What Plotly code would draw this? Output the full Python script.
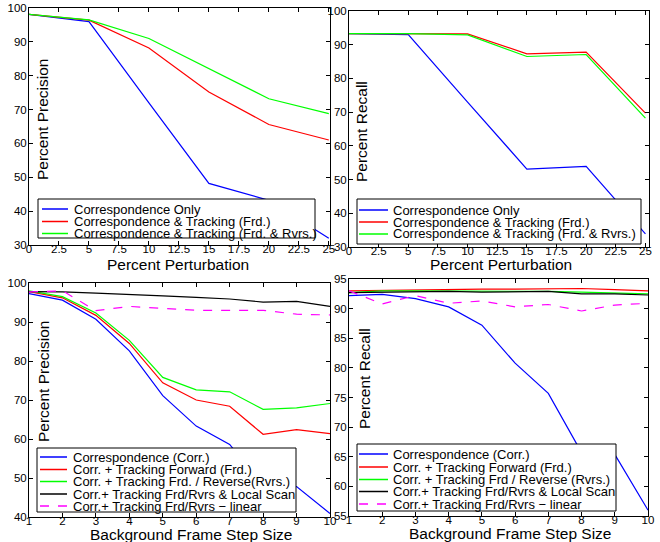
import plotly.graph_objects as go

W, H = 660, 542

# ---------------- data ----------------
pert_x = [0, 5, 10, 15, 20, 25]
prec_corr_only = [98.1, 96.0, 72.0, 48.2, 43.2, 32.0]
prec_frd = [98.1, 96.4, 88.2, 75.2, 65.6, 61.0]
prec_frd_rvrs = [98.1, 96.5, 91.0, 82.1, 73.2, 68.8]

rec_corr_only = [93.3, 93.0, 73.0, 53.1, 53.9, 33.9]
rec_frd = [93.3, 93.3, 93.2, 87.3, 87.8, 69.7]
rec_frd_rvrs = [93.3, 93.3, 92.9, 86.5, 87.1, 68.2]

step_x = [1, 2, 3, 4, 5, 6, 7, 8, 9, 10]
sprec_corr = [97.3, 95.6, 90.7, 82.6, 71.1, 63.3, 58.6, 47.9, 47.8, 40.9]
sprec_frd = [97.8, 96.2, 91.7, 84.5, 74.4, 70.0, 68.4, 61.2, 62.4, 61.4]
sprec_frd_rvrs = [98.0, 96.5, 92.3, 85.3, 75.8, 72.6, 72.1, 67.6, 68.0, 69.1]
sprec_local = [97.8, 97.7, 97.4, 97.1, 96.7, 96.3, 95.9, 95.1, 95.3, 94.0]
sprec_linear = [97.7, 98.0, 92.9, 94.0, 93.5, 93.0, 93.0, 93.0, 92.0, 91.8]

srec_corr = [92.2, 92.4, 91.7, 90.3, 87.2, 80.8, 75.7, 65.7, 65.4, 56.0]
srec_frd = [93.0, 93.1, 93.2, 93.2, 93.3, 93.3, 93.3, 93.4, 93.2, 93.0]
srec_frd_rvrs = [92.7, 93.0, 93.0, 93.0, 93.0, 92.9, 92.9, 92.8, 92.7, 92.5]
srec_local = [92.7, 92.8, 92.9, 92.9, 92.8, 92.8, 92.9, 92.5, 92.5, 92.3]
srec_linear = [93.0, 90.8, 92.2, 90.9, 91.3, 90.3, 90.7, 89.6, 90.6, 90.9]

pert_tick_vals = [0, 2.5, 5, 7.5, 10, 12.5, 15, 17.5, 20, 22.5, 25]
pert_tick_text = ["0", "2.5", "5", "7.5", "10", "12.5", "15", "17.5", "20", "22.5", "25"]

top_labels = ["Correspondence Only",
              "Correspondence & Tracking (Frd.)",
              "Correspondence & Tracking (Frd. & Rvrs.)"]
bl_labels = ["Correspondence (Corr.)",
             "Corr. + Tracking Forward (Frd.)",
             "Corr. + Tracking Frd. / Reverse(Rvrs.)",
             "Corr.+ Tracking Frd/Rvrs & Local Scan",
             "Corr.+ Tracking Frd/Rvrs \u2212 linear"]
br_labels = ["Correspondence (Corr.)",
             "Corr. + Tracking Forward (Frd.)",
             "Corr. + Tracking Frd / Reverse (Rvrs.)",
             "Corr.+ Tracking Frd/Rvrs & Local Scan",
             "Corr.+ Tracking Frd/Rvrs \u2212 linear"]

BLUE, RED, GREEN, BLACK, MAG = "#0000ff", "#ff0000", "#00ff00", "#000000", "#ff00ff"
styles3 = [(BLUE, "solid"), (RED, "solid"), (GREEN, "solid")]
styles5 = [(BLUE, "solid"), (RED, "solid"), (GREEN, "solid"), (BLACK, "solid"), (MAG, "dash")]

FONT = "Liberation Sans, Arial, Helvetica, sans-serif"

fig = go.Figure()

def add_series(xs, ys_list, labels, styles, ax):
    for ys, lab, (c, d) in zip(ys_list, labels, styles):
        fig.add_trace(go.Scatter(x=xs, y=ys, mode="lines", name=lab,
                                 line=dict(color=c, width=1.2, dash=d),
                                 xaxis="x" + ax, yaxis="y" + ax, showlegend=False))

add_series(pert_x, [prec_corr_only, prec_frd, prec_frd_rvrs], top_labels, styles3, "")
add_series(pert_x, [rec_corr_only, rec_frd, rec_frd_rvrs], top_labels, styles3, "2")
add_series(step_x, [sprec_corr, sprec_frd, sprec_frd_rvrs, sprec_local, sprec_linear], bl_labels, styles5, "3")
add_series(step_x, [srec_corr, srec_frd, srec_frd_rvrs, srec_local, srec_linear], br_labels, styles5, "4")

def px_dom(a, b, total, flip=False):
    if flip:
        return [1 - b / total, 1 - a / total]
    return [a / total, b / total]

axis_common = dict(showline=True, linecolor="black", linewidth=1, mirror="ticks",
                   ticks="inside", ticklen=4, tickcolor="black", showgrid=False,
                   zeroline=False, automargin=False,
                   tickfont=dict(family=FONT, size=11.5, color="black"))

panels = {
    "": dict(xd=(29, 330), yd=(8, 245), xr=[0, 25.1], yr=[30, 100]),
    "2": dict(xd=(349, 649), yd=(11, 247), xr=[0, 25.3], yr=[30, 100]),
    "3": dict(xd=(29, 330), yd=(283, 517), xr=[1, 10], yr=[40, 100]),
    "4": dict(xd=(349, 648), yd=(279, 516), xr=[1, 10], yr=[55, 95]),
}

layout = {}
for k, p in panels.items():
    xa = dict(axis_common, domain=px_dom(*p["xd"], W), range=p["xr"],
              anchor="y" + k, ticklabelstandoff=-7)
    ya = dict(axis_common, domain=px_dom(*p["yd"], H, flip=True), range=p["yr"],
              anchor="x" + k, ticklabelstandoff=-1)
    if k in ("", "2"):
        xa.update(tickvals=pert_tick_vals, ticktext=pert_tick_text)
        ya.update(dtick=10, tick0=0)
    elif k == "3":
        xa.update(dtick=1, tick0=1)
        ya.update(dtick=10, tick0=0)
    else:
        xa.update(dtick=1, tick0=1)
        ya.update(dtick=5, tick0=0)
    layout["xaxis" + k] = xa
    layout["yaxis" + k] = ya

fig.update_layout(**layout)

annotations = []
shapes = []

def P(x, y):
    return x / W, 1 - y / H

# axis titles
titles = [
    ("Percent Perturbation", 178, 265, 0),
    ("Percent Perturbation", 501, 264, 0),
    ("Background Frame Step Size", 191, 534, 0),
    ("Background Frame Step Size", 510, 533, 0),
    ("Percent Precision", 42, 119, -90),
    ("Percent Recall", 361, 132, -90),
    ("Percent Precision", 43, 382, -90),
    ("Percent Recall", 364, 379, -90),
]
for t, x, y, ang in titles:
    xp, yp = P(x, y)
    annotations.append(dict(text=t, x=xp, y=yp, xref="paper", yref="paper",
                            showarrow=False, textangle=ang, xanchor="center",
                            yanchor="middle",
                            font=dict(family=FONT, size=15.5, color="black")))

# legends
legends = [
    dict(box=(38, 199, 315, 238), rows=[209, 221.5, 233.5], lx=(42, 68), tx=72,
         labels=top_labels, styles=styles3),
    dict(box=(357, 199, 641, 244), rows=[210, 222, 234], lx=(359, 388), tx=391,
         labels=top_labels, styles=styles3),
    dict(box=(37, 448, 296, 512), rows=[457, 469.5, 481.5, 494, 506], lx=(40, 67), tx=71,
         labels=bl_labels, styles=styles5),
    dict(box=(357, 444, 616, 511), rows=[454, 467, 479.5, 491.5, 504], lx=(359, 388), tx=391,
         labels=br_labels, styles=styles5),
]
for lg in legends:
    x0, y0, x1, y1 = lg["box"]
    a, b = P(x0, y0)
    c, d = P(x1, y1)
    shapes.append(dict(type="rect", xref="paper", yref="paper", x0=a, y0=d, x1=c, y1=b,
                       line=dict(color="black", width=1), fillcolor="white", layer="above"))
    for ry, lab, (col, dash) in zip(lg["rows"], lg["labels"], lg["styles"]):
        lx0, ly = P(lg["lx"][0], ry)
        lx1, _ = P(lg["lx"][1], ry)
        shapes.append(dict(type="line", xref="paper", yref="paper", x0=lx0, x1=lx1,
                           y0=ly, y1=ly, line=dict(color=col, width=1.5, dash=dash),
                           layer="above"))
        tx, ty = P(lg["tx"], ry)
        annotations.append(dict(text=lab, x=tx, y=ty, xref="paper", yref="paper",
                                showarrow=False, xanchor="left", yanchor="middle",
                                font=dict(family=FONT, size=13, color="black")))

fig.update_layout(width=W, height=H, margin=dict(l=0, r=0, t=0, b=0, pad=0),
                  paper_bgcolor="white", plot_bgcolor="white",
                  annotations=annotations, shapes=shapes, showlegend=False,
                  font=dict(family=FONT, color="black"))

fig.write_html("out.html", config={"displayModeBar": False},
               post_script="document.body.style.margin='0';document.body.style.padding='0';"
                           "document.documentElement.style.overflow='hidden';")
